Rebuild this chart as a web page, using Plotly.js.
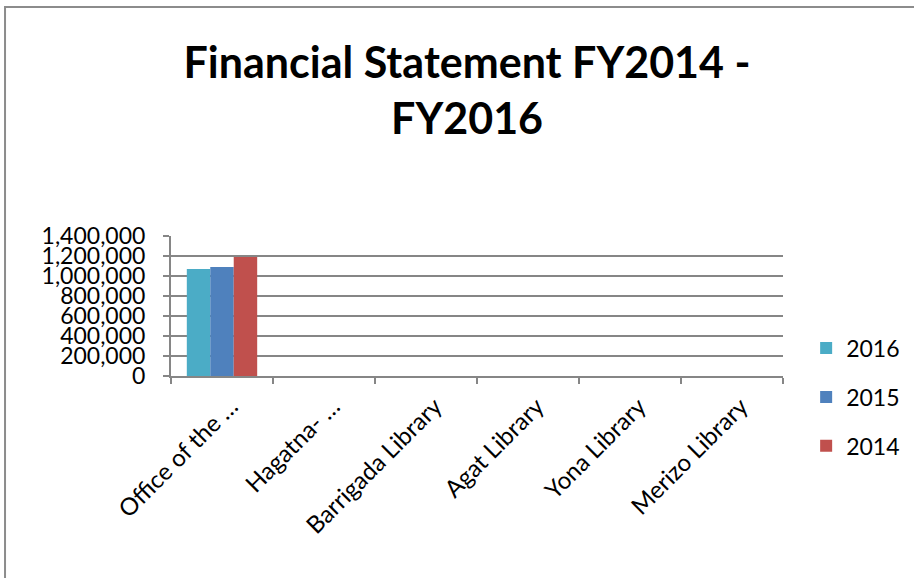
<!DOCTYPE html>
<html>
<head>
<meta charset="utf-8">
<script src="https://cdn.plot.ly/plotly-3.0.1.min.js"></script>
<style>html,body{margin:0;padding:0;background:#fff;}#chart{width:914px;height:578px;}</style>
</head>
<body>
<div id="chart"></div>
<script>
var categories = ["Office of the \u2026", "Hagatna- \u2026", "Barrigada Library", "Agat Library", "Yona Library", "Merizo Library"];
var seriesNames = ["2016", "2015", "2014"];
var values2016 = [1070000, 0, 0, 0, 0, 0];
var values2015 = [1090000, 0, 0, 0, 0, 0];
var values2014 = [1190000, 0, 0, 0, 0, 0];
var yTickVals = [0, 200000, 400000, 600000, 800000, 1000000, 1200000, 1400000];

var colors = ["#4BACC6", "#4F81BD", "#C0504D"];
var allValues = [values2016, values2015, values2014];
var font = "Lato, 'Open Sans', sans-serif";

var traces = seriesNames.map(function (n, i) {
  return {
    type: "bar",
    name: n,
    x: categories,
    y: allValues[i],
    marker: {color: colors[i], line: {width: 0}},
    legendgroup: "g" + i,
    hoverinfo: "x+y+name"
  };
});

var layout = {
  width: 914,
  height: 578,
  margin: {l: 171, r: 131, t: 236, b: 202, autoexpand: false},
  paper_bgcolor: "#ffffff",
  plot_bgcolor: "#ffffff",
  font: {family: font, size: 22, color: "#000000"},
  title: {
    text: "<b>Financial Statement FY2014 -<br>FY2016</b>",
    font: {family: font, size: 43, color: "#000000"},
    x: 0.511, xref: "container", xanchor: "center",
    y: 0.865, yref: "container", yanchor: "top"
  },
  barmode: "group",
  bargap: 0.31,
  bargroupgap: 0,
  showlegend: true,
  legend: {
    xref: "container", yref: "container",
    x: 0.882, xanchor: "left",
    y: 0.435, yanchor: "top",
    traceorder: "grouped",
    tracegroupgap: 16,
    font: {family: font, size: 23, color: "#000000"},
    bgcolor: "rgba(0,0,0,0)"
  },
  xaxis: {
    type: "category",
    categoryorder: "array",
    categoryarray: categories,
    tickangle: -45,
    tickson: "boundaries",
    ticks: "outside",
    ticklen: 6,
    tickwidth: 2,
    tickcolor: "#868686",
    showline: true,
    linecolor: "#868686",
    linewidth: 2,
    showgrid: false,
    ticklabelshift: 9,
    ticklabelstandoff: 5,
    tickfont: {family: font, size: 24, color: "#000000"},
    fixedrange: true
  },
  yaxis: {
    range: [0, 1400000],
    tickvals: yTickVals,
    tickformat: ",d",
    ticks: "outside",
    ticklen: 6,
    tickwidth: 2,
    tickcolor: "#868686",
    showline: true,
    linecolor: "#868686",
    linewidth: 2,
    showgrid: true,
    gridcolor: "#868686",
    gridwidth: 1.5,
    zeroline: false,
    ticklabelstandoff: 13,
    tickfont: {family: font, size: 23, color: "#000000"},
    fixedrange: true
  },
  shapes: [{
    type: "rect", xref: "paper", yref: "paper",
    x0: -0.2712, x1: 1.4, y0: -2, y1: 2.636,
    line: {color: "#8c8c8c", width: 2},
    fillcolor: "rgba(0,0,0,0)",
    layer: "below"
  }]
};

Plotly.newPlot("chart", traces, layout, {displayModeBar: false, staticPlot: true});
</script>
</body>
</html>
